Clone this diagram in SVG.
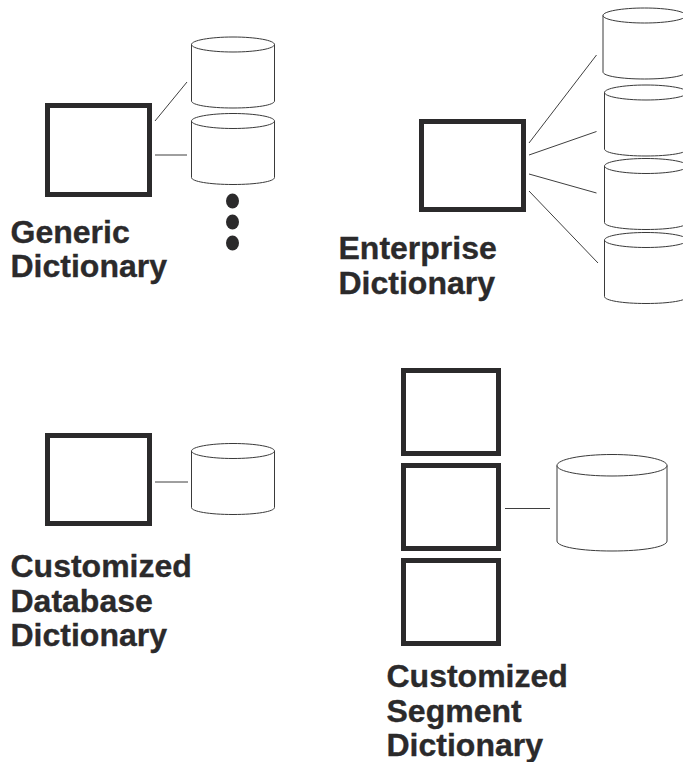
<svg xmlns="http://www.w3.org/2000/svg" width="683" height="762" viewBox="0 0 683 762">
<style>
.box{fill:#fff;stroke:#2b2a2b;stroke-width:5}
.cyl{fill:#fff;stroke:#3a3a3a;stroke-width:1}
.conn{fill:none;stroke:#3f3f3f;stroke-width:1}
.dot{fill:#2b2a2b}
text{font-family:"Liberation Sans",Arial,sans-serif;font-weight:700;font-size:32px;fill:#2b2a2b;stroke:#2b2a2b;stroke-width:.35}
</style>
<defs>
<path id="c83" d="M0,7.5 V64 C0,68 18,71 41.5,71 S83,68 83,64 V7.5 M0,7.5 C0,3.4 18.6,0 41.5,0 S83,3.4 83,7.5 S64.4,15 41.5,15 S0,11.6 0,7.5 Z"/>
</defs>
<rect width="683" height="762" fill="#fff"/>
<g id="connectors">
<line class="conn" x1="155" y1="121" x2="187" y2="82"/>
<line class="conn" x1="155" y1="155" x2="187" y2="155"/>
<line class="conn" x1="529" y1="143" x2="596.5" y2="55"/>
<line class="conn" x1="529" y1="155" x2="596.5" y2="131.5"/>
<line class="conn" x1="529" y1="174" x2="596.5" y2="193"/>
<line class="conn" x1="529" y1="191" x2="598" y2="263"/>
<line class="conn" x1="155" y1="482" x2="188" y2="482"/>
<line class="conn" x1="505" y1="508.5" x2="550" y2="508.5"/>
</g>
<g id="generic-dictionary">
<rect class="box" x="47.5" y="105.5" width="102" height="89"/>
<use class="cyl" href="#c83" x="191.5" y="37"/>
<use class="cyl" href="#c83" x="191.5" y="113.5"/>
<ellipse class="dot" cx="232.5" cy="201" rx="6.5" ry="7.5"/>
<ellipse class="dot" cx="232.5" cy="222" rx="6.5" ry="7.5"/>
<ellipse class="dot" cx="232.5" cy="243" rx="6.5" ry="7.5"/>
<text x="10.5" y="243">Generic</text>
<text x="10.5" y="277">Dictionary</text>
</g>
<g id="enterprise-dictionary">
<rect class="box" x="421.5" y="121.5" width="102" height="88"/>
<use class="cyl" href="#c83" x="603" y="8"/>
<use class="cyl" href="#c83" x="604.5" y="85"/>
<use class="cyl" href="#c83" x="604.5" y="158.5"/>
<use class="cyl" href="#c83" x="604.5" y="232.5"/>
<text x="338.5" y="259">Enterprise</text>
<text x="338.5" y="294">Dictionary</text>
</g>
<g id="customized-database-dictionary">
<rect class="box" x="47.5" y="435.5" width="102" height="88"/>
<use class="cyl" href="#c83" x="191.5" y="443.5"/>
<text x="10.5" y="577">Customized</text>
<text x="10.5" y="612">Database</text>
<text x="10.5" y="646">Dictionary</text>
</g>
<g id="customized-segment-dictionary">
<rect class="box" x="403.5" y="370.5" width="95" height="83"/>
<rect class="box" x="403.5" y="465.5" width="95" height="83"/>
<rect class="box" x="403.5" y="560.5" width="95" height="83"/>
<path class="cyl" d="M557,465.5 V541 C557,547 581,551 612,551 S667,547 667,541 V465.5 M557,465.5 C557,459.5 581,454.5 612,454.5 S667,459.5 667,465.5 S643,476 612,476 S557,471.5 557,465.5 Z"/>
<text x="386.5" y="687">Customized</text>
<text x="386.5" y="722">Segment</text>
<text x="386.5" y="756">Dictionary</text>
</g>
</svg>
